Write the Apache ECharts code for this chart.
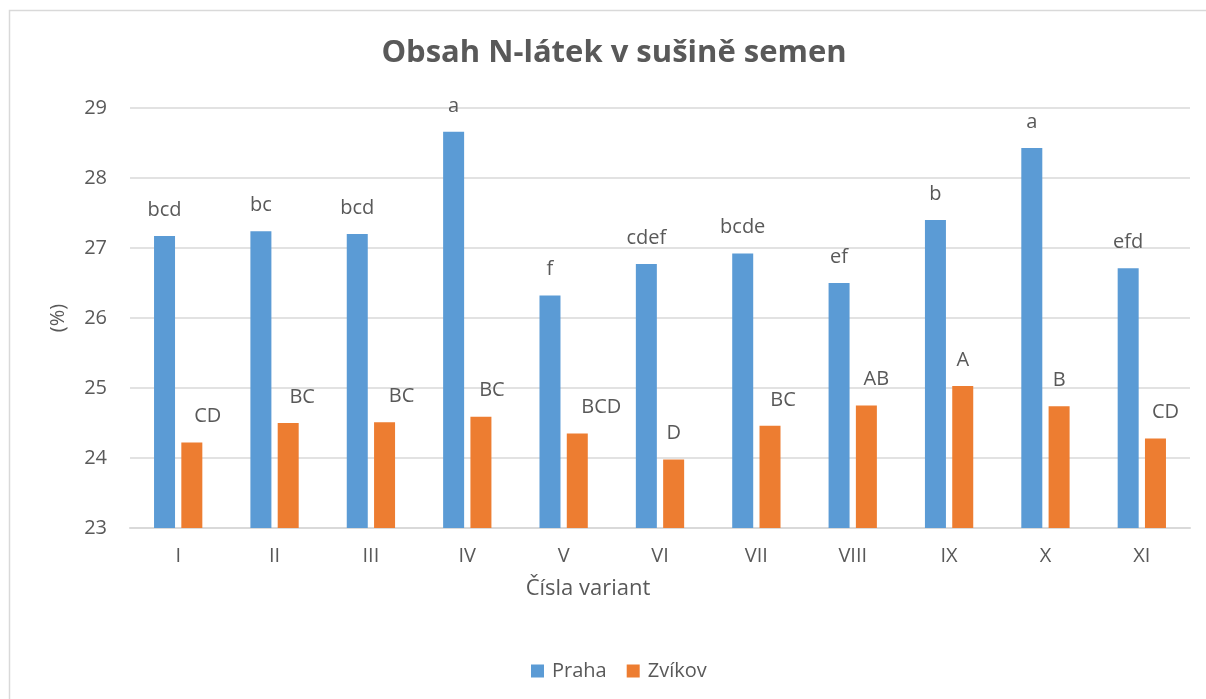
<!DOCTYPE html>
<html>
<head>
<meta charset="utf-8">
<script src="https://cdn.jsdelivr.net/npm/echarts@6/dist/echarts.min.js"></script>
<style>
html,body{margin:0;padding:0;background:#fff;}
#chart{width:1206px;height:699px;}
</style>
</head>
<body>
<div id="chart"></div>
<script>
const categories = ['I','II','III','IV','V','VI','VII','VIII','IX','X','XI'];
const prahaValues = [27.17, 27.24, 27.20, 28.66, 26.32, 26.77, 26.92, 26.50, 27.40, 28.43, 26.71];
const zvikovValues = [24.22, 24.50, 24.51, 24.59, 24.35, 23.98, 24.46, 24.75, 25.03, 24.74, 24.28];
const prahaLetters = ['bcd','bc','bcd','a','f','cdef','bcde','ef','b','a','efd'];
const zvikovLetters = ['CD','BC','BC','BC','BCD','D','BC','AB','A','B','CD'];
const yTicks = [23, 24, 25, 26, 27, 28, 29];

// label horizontal nudges (style only)
const zvikovLabelDx = [16, 14, 17, 11, 24, 0, 13, 10, 0, 0, 10];

const FONT = '"Open Sans", "Noto Sans", sans-serif';
const TXT = '#595959';

const chart = echarts.init(document.getElementById('chart'), null, {renderer: 'canvas'});

const option = {
  backgroundColor: '#ffffff',
  animation: false,
  textStyle: {fontFamily: FONT, color: TXT},
  title: [
    {
      text: 'Obsah N-látek v sušině semen',
      left: 609, top: 33, textAlign: 'center',
      textStyle: {fontFamily: FONT, fontWeight: 'bold', fontSize: 31, color: TXT}
    },
    {
      text: 'Čísla variant',
      left: 583, top: 573, textAlign: 'center',
      textStyle: {fontFamily: FONT, fontWeight: 'normal', fontSize: 22, color: TXT}
    }
  ],
  graphic: [{
    type: 'rect', silent: true, z: -1,
    shape: {x: 9.5, y: 10.5, width: 1300, height: 800},
    style: {fill: 'none', stroke: '#d9d9d9', lineWidth: 1.5}
  }],
  legend: {
    left: 531, top: 661, padding: 0,
    itemWidth: 13, itemHeight: 13, itemGap: 20,
    icon: 'rect',
    textStyle: {fontFamily: FONT, fontSize: 20, color: TXT, padding: [0, 0, 0, 3]},
    data: ['Praha', 'Zvíkov']
  },
  grid: {left: 130, right: 16, top: 108, bottom: 171, containLabel: false},
  xAxis: {
    type: 'category',
    data: categories,
    axisLine: {lineStyle: {color: '#d9d9d9', width: 2}},
    axisTick: {show: false},
    axisLabel: {fontFamily: FONT, fontSize: 20, color: TXT, margin: 18}
  },
  yAxis: {
    type: 'value',
    min: yTicks[0], max: yTicks[yTicks.length - 1], interval: 1,
    name: '(%)', nameLocation: 'middle', nameGap: 62, nameRotate: 90,
    nameTextStyle: {fontFamily: FONT, fontSize: 20, color: TXT},
    axisLine: {show: false},
    axisTick: {show: false},
    axisLabel: {fontFamily: FONT, fontSize: 20, color: TXT, margin: 23},
    splitLine: {lineStyle: {color: '#d9d9d9', width: 1.5}}
  },
  series: [
    {
      name: 'Praha', type: 'bar',
      barWidth: 21, barGap: '30%',
      itemStyle: {color: '#5B9BD5'},
      data: prahaValues.map((v, i) => ({
        value: v,
        label: {formatter: prahaLetters[i]}
      })),
      label: {show: true, position: 'top', distance: 16,
        fontFamily: FONT, fontSize: 20, color: TXT}
    },
    {
      name: 'Zvíkov', type: 'bar',
      barWidth: 21, barGap: '30%',
      itemStyle: {color: '#ED7D31'},
      data: zvikovValues.map((v, i) => ({
        value: v,
        label: {formatter: zvikovLetters[i], offset: [zvikovLabelDx[i], 0]}
      })),
      label: {show: true, position: 'top', distance: 16,
        fontFamily: FONT, fontSize: 20, color: TXT}
    }
  ]
};

chart.setOption(option);
</script>
</body>
</html>
